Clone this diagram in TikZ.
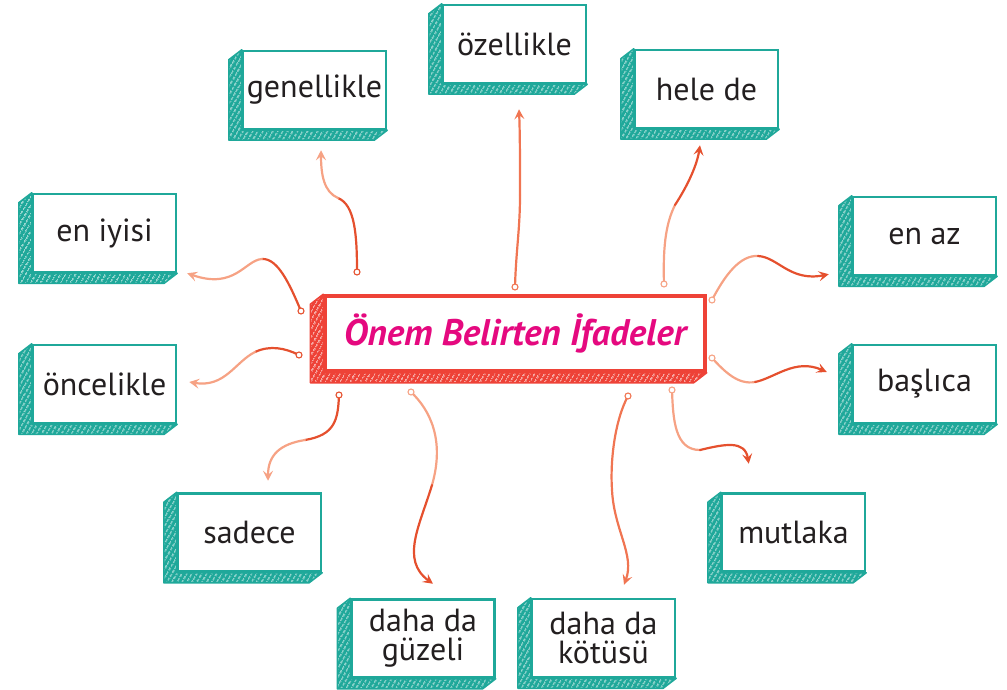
\documentclass[tikz,border=0pt]{standalone}
\usepackage{fontspec}
\setmainfont{PT Sans}
\usetikzlibrary{arrows.meta,patterns.meta,backgrounds,calc}

\definecolor{cardteal}{HTML}{1FA89A}
\definecolor{titlered}{HTML}{EE4237}
\definecolor{titlepink}{HTML}{E5097F}
\definecolor{inkgray}{HTML}{231F20}
\definecolor{linklight}{HTML}{F6A284}
\definecolor{linkmid}{HTML}{F07552}
\definecolor{linkdark}{HTML}{E5502E}

\tikzset{
  card/.style={draw=cardteal, line width=2.5pt, fill=white,
    minimum width=143pt, minimum height=78pt, inner sep=0pt,
    text=inkgray, font=\fontsize{32}{29}\selectfont, align=center},
  titlecard/.style={draw=titlered, line width=3.5pt, fill=white,
    minimum width=380pt, minimum height=75pt, inner sep=0pt,
    text=titlepink, font=\fontsize{37}{40}\selectfont\bfseries\itshape},
  sidewall/.style={draw=#1, line width=1.5pt, line join=round,
    preaction={fill=#1},
    pattern={Lines[angle=60,distance=4pt,line width=1pt]},
    pattern color=white!85!#1},
  link/.style={line width=2.2pt, line cap=round},
  arrowend/.style={-{Stealth[length=10pt,width=10pt,inset=4pt]}},
  knob/.style={draw=#1, fill=white, line width=1.1pt},
}

\begin{document}
\begin{tikzpicture}[x=1pt,y=-1pt]
  \useasboundingbox (0,0) rectangle (1007,690);

  % the centre
  \node[titlecard] (title) at (515,333.5) {Önem Belirten İfadeler};

  % the eleven cards
  \node[card] (iyi)   at (104.5,233)   {en iyisi};
  \node[card] (gen)   at (314.5,90)    {genellikle};
  \node[card] (ozel)  at (514.5,44)    {özellikle};
  \node[card] (hele)  at (706.5,89)    {hele de};
  \node[card] (enaz)  at (924.5,236)   {en az};
  \node[card] (bas)   at (924.5,384)   {başlıca};
  \node[card] (mut)   at (793.5,532.5) {mutlaka};
  \node[card] (kotu)  at (603.5,638)   {daha da\\kötüsü};
  \node[card] (guzel) at (423,638.5)   {daha da\\güzeli};
  \node[card] (sad)   at (249.5,532.5) {sadece};
  \node[card] (once)  at (104.5,384)   {öncelikle};

  % hatched side walls
  \begin{scope}[on background layer]
    \foreach \n in {iyi,gen,ozel,hele,enaz,bas,mut,kotu,guzel,sad,once}
      \path[sidewall=cardteal] (\n.north west) -- ++(-13,10)
        -- ($(\n.south west)+(-13,10)$) -- ($(\n.south east)+(-13,10)$)
        -- (\n.south east) -- (\n.south west) -- cycle;
    \path[sidewall=titlered] (title.north west) -- ++(-13,10)
      -- ($(title.south west)+(-13,10)$) -- ($(title.south east)+(-13,10)$)
      -- (title.south east) -- (title.south west) -- cycle;
  \end{scope}

  % loose ends on the centre
  \coordinate (a-gen)   at (357,272);
  \coordinate (a-ozel)  at (515,287);
  \coordinate (a-hele)  at (664,284);
  \coordinate (a-enaz)  at (712,300);
  \coordinate (a-bas)   at (712,358);
  \coordinate (a-mut)   at (672,390);
  \coordinate (a-kotu)  at (628,396);
  \coordinate (a-guzel) at (411,392);
  \coordinate (a-sad)   at (339,395);
  \coordinate (a-once)  at (299,355);
  \coordinate (a-iyi)   at (301,311);

  % connectors
  \draw[link, linkdark] (a-gen) .. controls (357,235) and (355,205) .. (338,198);
  \draw[link, arrowend, linklight] (338,198) .. controls (324,192) and (321,175) .. ($(gen.south)+(6.5,20)$);

  \draw[link, linkmid] (a-ozel) .. controls (516,250) and (520,230) .. (520,195);
  \draw[link, arrowend, linkmid] (520,195) .. controls (520,160) and (520,135) .. ($(ozel.south)+(4.5,25)$);

  \draw[link, linklight] (a-hele) .. controls (663,250) and (665,225) .. (675,205);
  \draw[link, arrowend, linkdark] (675,205) .. controls (688,185) and (697,165) .. ($(hele.south)+(-6.5,16)$);

  \draw[link, linklight] (a-enaz) .. controls (725,275) and (740,255) .. (758,256);
  \draw[link, arrowend, linkdark] (758,256) .. controls (778,257) and (790,282) .. ($(enaz.south west)+(-23,-2)$);

  \draw[link, linklight] (a-bas) .. controls (725,372) and (738,385) .. (755,382);
  \draw[link, arrowend, linkdark] (755,382) .. controls (775,378) and (795,358) .. ($(bas.west)+(-25,-12)$);

  \draw[link, linklight] (a-mut) .. controls (673,420) and (675,450) .. (700,450);
  \draw[link, arrowend, linkdark] (700,450) .. controls (725,444) and (745,440) .. ($(mut.north west)+(28,-28.5)$);

  \draw[link, linkmid] (a-kotu) .. controls (615,420) and (610,460) .. (612,490);
  \draw[link, arrowend, linkmid] (612,490) .. controls (614,530) and (635,555) .. ($(kotu.north)+(20.5,-13)$);

  \draw[link, linklight] (a-guzel) .. controls (430,410) and (445,440) .. (432,485);
  \draw[link, arrowend, linkdark] (432,485) .. controls (420,525) and (400,560) .. ($(guzel.north)+(10,-14.5)$);

  \draw[link, linkdark] (a-sad) .. controls (338,420) and (335,435) .. (305,440);
  \draw[link, arrowend, linklight] (305,440) .. controls (280,444) and (268,455) .. ($(sad.north)+(18.5,-11.5)$);

  \draw[link, linkdark] (a-once) .. controls (285,348) and (270,345) .. (255,352);
  \draw[link, arrowend, linklight] (255,352) .. controls (235,362) and (225,388) .. ($(once.east)+(12,-2)$);

  \draw[link, linkdark] (a-iyi) .. controls (290,285) and (278,258) .. (262,259);
  \draw[link, arrowend, linklight] (262,259) .. controls (245,260) and (235,290) .. ($(iyi.south east)+(10,0)$);

  % little rings at the loose ends
  \draw[knob=linkdark]  (a-gen)   circle[radius=3pt];
  \draw[knob=linkmid]   (a-ozel)  circle[radius=3pt];
  \draw[knob=linklight] (a-hele)  circle[radius=3pt];
  \draw[knob=linklight] (a-enaz)  circle[radius=3pt];
  \draw[knob=linklight] (a-bas)   circle[radius=3pt];
  \draw[knob=linklight] (a-mut)   circle[radius=3pt];
  \draw[knob=linkmid]   (a-kotu)  circle[radius=3pt];
  \draw[knob=linklight] (a-guzel) circle[radius=3pt];
  \draw[knob=linkdark]  (a-sad)   circle[radius=3pt];
  \draw[knob=linkdark]  (a-once)  circle[radius=3pt];
  \draw[knob=linkdark]  (a-iyi)   circle[radius=3pt];
\end{tikzpicture}
\end{document}
